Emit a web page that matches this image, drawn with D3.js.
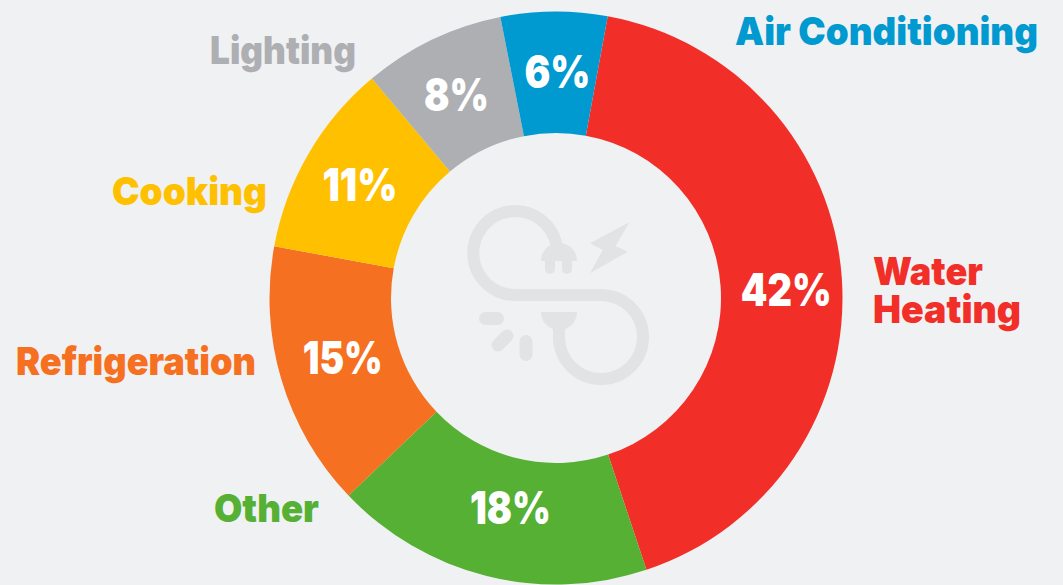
<!DOCTYPE html>
<html lang="en">
<head>
    <meta charset="UTF-8">
    <title>Home Energy Use</title>
    <script src="https://cdn.jsdelivr.net/npm/d3@7"></script>
    <style>
        html, body { margin: 0; padding: 0; background: #f0f1f3; overflow: hidden; }
        svg { display: block; }
        text { font-family: Inter, "Open Sans", sans-serif; font-weight: 900; }
    </style>
</head>
<body>
<div id="chart"></div>

<script>
// Data
const categories = ["Water Heating", "Other", "Refrigeration", "Cooking", "Lighting", "Air Conditioning"];
const shares = [42, 18, 15, 11, 8, 6];
const colors = ["#f12f28", "#55b033", "#f67021", "#ffc000", "#aeafb2", "#0099d0"];

const width = 1063, height = 585;
const cx = 556, cy = 298, outerR = 286.5, innerR = 165;

// Where the names sit: anchor point, and fitted width of each line
const nameLayout = {
    "Water Heating": { anchor: "start", x: 873, lines: [["Water", 285, 110], ["Heating", 323, 148]] },
    "Other": { anchor: "end", x: 319, lines: [["Other", 522, 105]] },
    "Refrigeration": { anchor: "end", x: 256, lines: [["Refrigeration", 375, 240]] },
    "Cooking": { anchor: "end", x: 267, lines: [["Cooking", 205, 155]] },
    "Lighting": { anchor: "end", x: 356, lines: [["Lighting", 64, 146]] },
    "Air Conditioning": { anchor: "start", x: 735, lines: [["Air Conditioning", 45, 303]] }
};

// Percent labels: nudge away from the ring centroid and fitted width
const pctNudge = [[5, 8], [9, -9], [3, -5], [-1, 0], [-2, 0], [3, 0]];
const pctWidth = [91, 81, 80, 75, 65, 66];

const svg = d3.select("#chart").append("svg").attr("width", width).attr("height", height);

const pie = d3.pie().sort(null)
    .startAngle(10.4 * Math.PI / 180)
    .endAngle((360 + 10.4) * Math.PI / 180);
const arc = d3.arc().innerRadius(innerR).outerRadius(outerR);
const slices = pie(shares);

const ring = svg.append("g").attr("transform", `translate(${cx},${cy})`);

ring.selectAll("path")
    .data(slices)
    .enter().append("path")
    .attr("d", arc)
    .attr("fill", (d, i) => colors[i]);

ring.selectAll("text")
    .data(slices)
    .enter().append("text")
    .attr("x", (d, i) => arc.centroid(d)[0] + pctNudge[i][0])
    .attr("y", (d, i) => arc.centroid(d)[1] + pctNudge[i][1])
    .attr("dy", "0.36em")
    .attr("text-anchor", "middle")
    .attr("font-size", 45)
    .attr("textLength", (d, i) => pctWidth[i])
    .attr("lengthAdjust", "spacingAndGlyphs")
    .attr("fill", "#fff")
    .text(d => d.data + "%");

// Category names
categories.forEach((name, i) => {
    let spec = nameLayout[name];
    spec.lines.forEach(line => {
        svg.append("text")
            .attr("x", spec.x)
            .attr("y", line[1])
            .attr("text-anchor", spec.anchor)
            .attr("font-size", 39)
            .attr("textLength", line[2])
            .attr("lengthAdjust", "spacingAndGlyphs")
            .attr("fill", colors[i])
            .text(line[0]);
    });
});

// Plug and cable icon in the middle
const icon = svg.append("g").attr("fill", "#e2e3e5").attr("stroke", "none");

icon.append("path")
    .attr("fill", "none").attr("stroke", "#e2e3e5").attr("stroke-width", 12)
    .attr("d", "M556.5 245 A42 42 0 1 0 517 295 L601 295 A42 42 0 1 1 559 337 L559 323");
icon.append("path").attr("d", "M541 261 A18 18 0 0 1 577 261 Z");
icon.append("path").attr("d", "M541 312 L577 312 A18 18 0 0 1 541 312 Z");
icon.append("path").attr("d", "M629.3 222.3 L590 243.3 L602.7 250 L590 273.3 L627.7 251.7 L615.7 246 Z");

[[550, 255, 550, 269], [567, 255, 567, 269]].forEach(p => {
    icon.append("line").attr("x1", p[0]).attr("y1", p[1]).attr("x2", p[2]).attr("y2", p[3])
        .attr("stroke", "#e2e3e5").attr("stroke-width", 10).attr("stroke-linecap", "round");
});
[[485.5, 318.5, 497.5, 318.5], [498, 345, 507, 336], [526, 341.5, 526, 354.5]].forEach(p => {
    icon.append("line").attr("x1", p[0]).attr("y1", p[1]).attr("x2", p[2]).attr("y2", p[3])
        .attr("stroke", "#e2e3e5").attr("stroke-width", 13).attr("stroke-linecap", "round");
});
</script>
</body>
</html>
